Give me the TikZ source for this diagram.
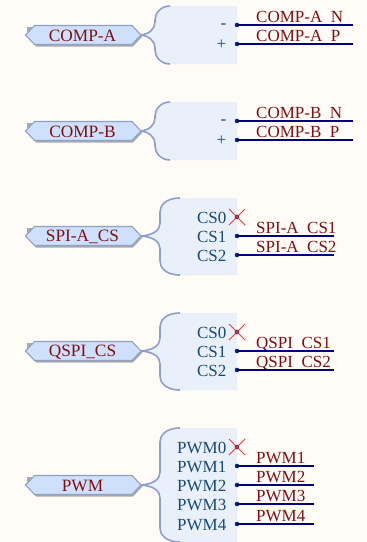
\documentclass[tikz,border=0pt]{standalone}
\usepackage{fontspec}
\setmainfont{Liberation Serif}
\definecolor{pagebg}{HTML}{FFFCF8}
\definecolor{boxfill}{HTML}{EAF0F9}
\definecolor{bracecol}{HTML}{8E9FCB}
\definecolor{hexfill}{HTML}{CFE0FD}
\definecolor{hexline}{HTML}{8FA0C0}
\definecolor{hexshadow}{HTML}{A9ACB0}
\definecolor{labelred}{HTML}{801010}
\definecolor{pinblue}{HTML}{164A78}
\definecolor{wirecol}{HTML}{000080}
\definecolor{dotcol}{HTML}{003070}
\definecolor{crosscol}{HTML}{F83838}
\newcommand{\lowus}{\lower1.4pt\hbox{\_}}
\tikzset{
  x=1pt,y=-1pt,
  netlabel/.style={font=\fontsize{17}{17}\selectfont,text=labelred,anchor=base west,inner sep=0pt},
  hexlabel/.style={font=\fontsize{17.3}{17.3}\selectfont,text=labelred,anchor=center,inner sep=0pt},
  pinlabel/.style={font=\fontsize{17}{17}\selectfont,text=pinblue,anchor=east,inner sep=0pt},
  wire/.style={draw=wirecol,line width=1.5pt},
  brace/.style={draw=bracecol,line width=1.6pt},
  pindot/.style={circle,fill=dotcol,inner sep=0pt,minimum size=4.6pt},
  crossline/.style={draw=crosscol,line width=0.8pt},
}
% hex connector: #1 name, #2 centre y, #3 text
\newcommand{\hexport}[3]{%
  \fill[hexshadow] (27,#2-8) -- (36,#2-8) -- (133,#2-8) -- (142.5,#2+1.5) -- (133,#2+11.5) -- (36,#2+11.5) -- (27,#2+1.5) -- cycle;
  \path[fill=hexfill,draw=hexline,line width=1.1pt] (25.5,#2) -- (34.5,#2-9.5) -- (132,#2-9.5) -- (141,#2) -- (132,#2+9.5) -- (34.5,#2+9.5) -- cycle;
  \node[hexlabel] (#1) at (82.5,#2+0.8) {#3};
  \coordinate (#1tip) at (141,#2);
}
% block: #1 left x, #2 top, #3 bottom, #4 centre, #5 bend x, #6 tip name
\newcommand{\busblock}[6]{%
  \fill[boxfill] (#1,#2) -- (237,#2) -- (237,#3) -- (#1,#3)
     .. controls (#5+5,#3) and (#5,#3-8) .. (#5,#3-14) -- (#5,#4+13)
     .. controls (#5,#4+6) and (#5-6,#4+1) .. (#6tip)
     .. controls (#5-6,#4-1) and (#5,#4-6) .. (#5,#4-13) -- (#5,#2+14)
     .. controls (#5,#2+8) and (#5+5,#2) .. (#1,#2) -- cycle;
  \draw[brace] (#1,#2) .. controls (#5+5,#2) and (#5,#2+8) .. (#5,#2+14) -- (#5,#4-13)
     .. controls (#5,#4-6) and (#5-6,#4-1) .. (#6tip);
  \draw[brace] (#1,#3) .. controls (#5+5,#3) and (#5,#3-8) .. (#5,#3-14) -- (#5,#4+13)
     .. controls (#5,#4+6) and (#5-6,#4+1) .. (#6tip);
}
% pin with wire: #1 name, #2 y, #3 pin text, #4 wire end x, #5 net text
\newcommand{\netpin}[5]{%
  \node[pinlabel] (#1t) at (226.5,#2+0.7) {#3};
  \node[netlabel] (#1n) at (256,#2-2.6) {#5};
  \coordinate (#1e) at (#4,#2);
  \node[pindot] (#1d) at (237,#2) {};
  \draw[wire] (#1d.center) -- (#1e);
}
% unconnected pin
\newcommand{\ncpin}[3]{%
  \node[pinlabel] (#1t) at (226.5,#2+0.7) {#3};
  \node[pindot] (#1d) at (237,#2) {};
  \draw[crossline] (229,#2-8) -- (245,#2+8);
  \draw[crossline] (245,#2-8) -- (229,#2+8);
}
\begin{document}
\begin{tikzpicture}
\useasboundingbox[fill=pagebg] (0,0) rectangle (367,542);
% COMP-A
\hexport{ca}{35}{COMP-A}
\busblock{170}{6}{64}{35}{155}{ca}
\netpin{caN}{25}{-}{353}{COMP-A\lowus N}
\netpin{caP}{44}{+}{353}{COMP-A\lowus P}
% COMP-B
\hexport{cb}{131}{COMP-B}
\busblock{170}{102}{160}{131}{155}{cb}
\netpin{cbN}{121}{-}{353}{COMP-B\lowus N}
\netpin{cbP}{140}{+}{353}{COMP-B\lowus P}
% SPI
\hexport{sp}{236}{SPI-A\_CS}
\busblock{180}{198}{275}{236}{160}{sp}
\ncpin{spz}{217}{CS0}
\netpin{spa}{236}{CS1}{334}{SPI-A\lowus CS1}
\netpin{spb}{255}{CS2}{334}{SPI-A\lowus CS2}
% QSPI
\hexport{qs}{351}{QSPI\_CS}
\busblock{180}{313}{390}{351}{160}{qs}
\ncpin{qsz}{332}{CS0}
\netpin{qsa}{351}{CS1}{334}{QSPI\lowus CS1}
\netpin{qsb}{370}{CS2}{334}{QSPI\lowus CS2}
% PWM
\hexport{pw}{485}{PWM}
\busblock{180}{428}{542}{485}{160}{pw}
\ncpin{pwz}{447}{PWM0}
\netpin{pwa}{466}{PWM1}{314}{PWM1}
\netpin{pwb}{485}{PWM2}{314}{PWM2}
\netpin{pwc}{504}{PWM3}{314}{PWM3}
\netpin{pwd}{524}{PWM4}{314}{PWM4}
\end{tikzpicture}
\end{document}
